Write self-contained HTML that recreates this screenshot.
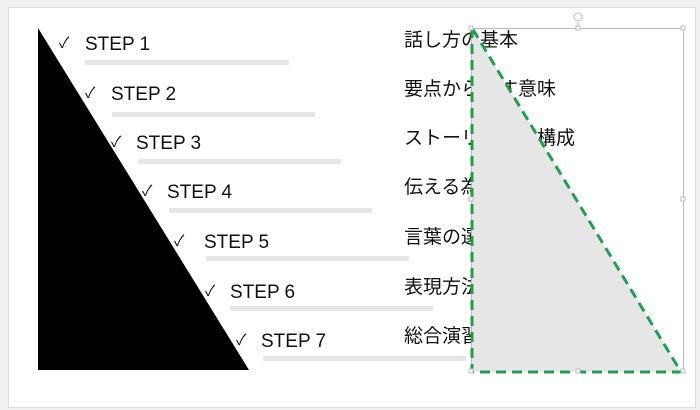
<!DOCTYPE html>
<html><head><meta charset="utf-8"><style>
body{margin:0;width:700px;height:410px;background:#f0f0f0;position:relative;overflow:hidden;font-family:"Liberation Sans","Noto Sans CJK JP",sans-serif}
.slide{position:absolute;left:8px;top:7px;width:686px;height:399px;background:#fff;border:1px solid #dcdcdc}
.t{position:absolute;font-size:19px;color:#111;line-height:1;white-space:nowrap}
.j{position:absolute;font-size:19px;color:#111;line-height:1;white-space:nowrap}
.c{position:absolute;font-size:15px;color:#111;line-height:1}
.b{position:absolute;height:5px;background:#e6e6e6}
</style></head><body>
<div class="slide"></div>
<div class="b" style="left:85px;top:60px;width:204px"></div>
<div class="b" style="left:112px;top:112px;width:203px"></div>
<div class="b" style="left:138px;top:159px;width:203px"></div>
<div class="b" style="left:169px;top:208px;width:203px"></div>
<div class="b" style="left:206px;top:256px;width:203px"></div>
<div class="b" style="left:230px;top:306px;width:203px"></div>
<div class="b" style="left:263px;top:356px;width:203px"></div>
<svg style="position:absolute;left:0;top:0" width="700" height="410"><polygon points="38,28 38,370 249,370" fill="#000"/></svg>
<div class="c" style="left:59px;top:36px">✓</div><div class="t" style="left:85px;top:35px">STEP 1</div>
<div class="c" style="left:85px;top:86px">✓</div><div class="t" style="left:111px;top:85px">STEP 2</div>
<div class="c" style="left:111px;top:135px">✓</div><div class="t" style="left:136px;top:134px">STEP 3</div>
<div class="c" style="left:142px;top:184px">✓</div><div class="t" style="left:167px;top:183px">STEP 4</div>
<div class="c" style="left:174px;top:234px">✓</div><div class="t" style="left:204px;top:233px">STEP 5</div>
<div class="c" style="left:205px;top:284px">✓</div><div class="t" style="left:230px;top:283px">STEP 6</div>
<div class="c" style="left:236px;top:333px">✓</div><div class="t" style="left:261px;top:332px">STEP 7</div>
<div class="j" style="left:404px;top:31px">話し方の基本</div>
<div class="j" style="left:404px;top:80px">要点から話す意味</div>
<div class="j" style="left:404px;top:129px">ストーリー展開構成</div>
<div class="j" style="left:404px;top:178px">伝える為の工夫</div>
<div class="j" style="left:404px;top:228px">言葉の選び方</div>
<div class="j" style="left:404px;top:278px">表現方法</div>
<div class="j" style="left:404px;top:327px">総合演習</div>
<svg style="position:absolute;left:0;top:0" width="700" height="410">
<rect x="471.5" y="28.5" width="212" height="343" fill="none" stroke="#bbb" stroke-width="1"/>
<line x1="578" y1="22" x2="578" y2="28" stroke="#bbb"/>
<circle cx="578" cy="17" r="4" fill="#fff" stroke="#bbb"/>
<polygon points="472,28 472,372 681,372" fill="#e7e6e6" stroke="#1fa050" stroke-width="3" stroke-dasharray="10,6"/>
<g fill="#fff" stroke="#bbb"><rect x="469" y="26" width="4" height="4"/><rect x="576" y="26" width="4" height="4"/><rect x="681" y="26" width="4" height="4"/><rect x="469" y="197" width="4" height="4"/><rect x="681" y="197" width="4" height="4"/><rect x="469" y="369" width="4" height="4"/><rect x="576" y="369" width="4" height="4"/><rect x="681" y="369" width="4" height="4"/></g>
</svg>
</body></html>
